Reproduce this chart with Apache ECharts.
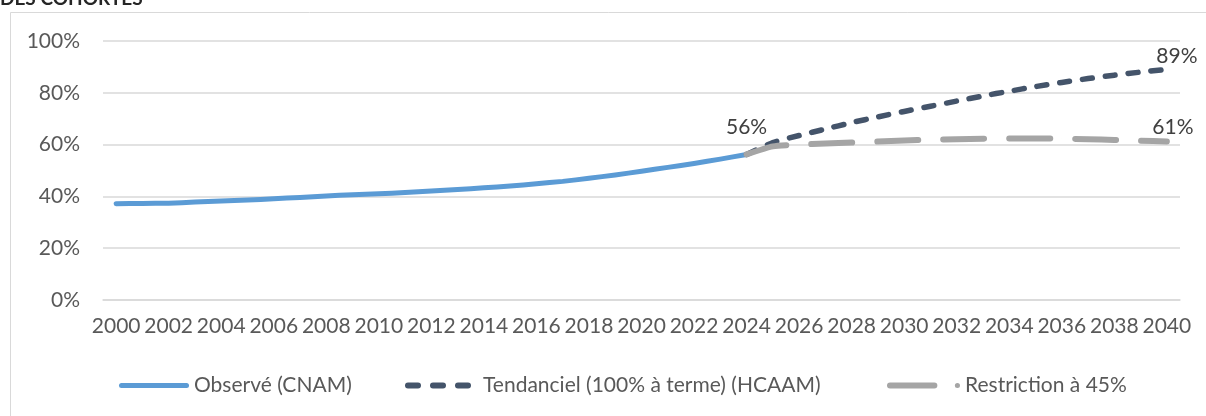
<!DOCTYPE html>
<html>
<head>
<meta charset="utf-8">
<script src="https://cdn.jsdelivr.net/npm/echarts@6/dist/echarts.min.js"></script>
<style>
html,body{margin:0;padding:0;background:#fff;}
#chart{width:1206px;height:416px;}
</style>
</head>
<body>
<div id="chart"></div>
<script>
// ---- Data ----
const years = [];
for (let y = 2000; y <= 2040; y++) years.push(String(y));

const observed = [37.2, 37.3, 37.4, 37.8, 38.2, 38.6, 39.1, 39.6, 40.2, 40.6,
  41.0, 41.5, 42.1, 42.7, 43.3, 44.0, 44.9, 45.8, 47.0, 48.3,
  49.7, 51.2, 52.7, 54.4, 56.2];
const trend = [56.2, 60.8, 63.5, 66.0, 68.5, 70.7, 72.8, 74.8, 76.8, 78.8,
  80.6, 82.4, 84.0, 85.5, 86.8, 88.0, 89.0];
const restriction = [56.2, 59.3, 60.0, 60.4, 60.8, 61.2, 61.6, 61.9, 62.1, 62.3,
  62.4, 62.4, 62.3, 62.1, 61.8, 61.5, 61.2];
const seriesNames = ['Observé (CNAM)', 'Tendanciel (100% à terme) (HCAAM)', 'Restriction à 45%'];
const labelTexts = ['56%', '89%', '61%'];
const yTicks = [0, 20, 40, 60, 80, 100];
const title = 'DES COHORTES';

// ---- Build series arrays aligned to the category axis ----
const startProj = 24; // index of 2024
function pad(arr, start) {
  const out = new Array(years.length).fill(null);
  arr.forEach((v, i) => { out[start + i] = v; });
  return out;
}
const obsData = pad(observed, 0);
const trendData = pad(trend, startProj);
const restData = pad(restriction, startProj);

const FONT = 'Lato';
const TXT = '#595959';
const FS = 21;
const BLUE = '#5B9BD5', DARK = '#44546A', GRAY = '#A5A5A5';

const labelStyle = { show: true, fontFamily: FONT, fontSize: FS, color: '#404040' };
obsData[observed.length - 1] = { value: observed[observed.length - 1],
  label: Object.assign({}, labelStyle, { position: 'top', offset: [0, -12], formatter: labelTexts[0] }) };
trendData[years.length - 1] = { value: trend[trend.length - 1],
  label: Object.assign({}, labelStyle, { position: 'top', offset: [10, 2], formatter: labelTexts[1] }) };
restData[years.length - 1] = { value: restriction[restriction.length - 1],
  label: Object.assign({}, labelStyle, { position: 'top', offset: [6, 1], formatter: labelTexts[2] }) };

function dash(x) { return 'M' + (x + 3) + ',0 H' + (x + 13) + ' A3,3 0 0 1 ' + (x + 13) + ',6 H' + (x + 3) + ' A3,3 0 0 1 ' + (x + 3) + ',0 Z'; }
const darkIcon = 'path://' + dash(0) + ' ' + dash(25) + ' ' + dash(50);
const grayIcon = 'path://M3,0 H46 A3,3 0 0 1 46,6 H3 A3,3 0 0 1 3,0 Z M66,3 A2.5,2.5 0 1 1 71,3 A2.5,2.5 0 1 1 66,3 Z';
const blueIcon = 'path://M2.5,0 H67.5 A2.5,2.5 0 0 1 67.5,5 H2.5 A2.5,2.5 0 0 1 2.5,0 Z';

function legendFor(name, left, icon, w, h, padLeft, color) {
  return {
    left: left, top: 370, orient: 'horizontal', selectedMode: false,
    data: [{ name: name, icon: icon, itemStyle: { color: color, opacity: 1 } }],
    itemWidth: w, itemHeight: h, symbolKeepAspect: false,
    textStyle: { fontFamily: FONT, fontSize: FS, color: TXT, padding: [0, 0, 0, padLeft] }
  };
}

function lineSeries(name, data, color, width, type, z) {
  return {
    name: name, type: 'line', data: data,
    symbol: 'circle', symbolSize: 0.1, showSymbol: true, showAllSymbol: true,
    itemStyle: { color: color },
    smooth: 0.2, connectNulls: false, z: z,
    lineStyle: { color: color, width: width, type: type, cap: 'round', join: 'round' },
    emphasis: { disabled: true }
  };
}

const chart = echarts.init(document.getElementById('chart'), null, { renderer: 'canvas' });
chart.setOption({
  animation: false,
  backgroundColor: '#ffffff',
  color: [BLUE, DARK, GRAY],
  graphic: [
    { type: 'rect', shape: { x: 10.5, y: 12.5, width: 1400, height: 600 },
      style: { fill: null, stroke: '#D9D9D9', lineWidth: 1 }, silent: true },
    { type: 'text', left: 0, top: -11,
      style: { text: title, fontFamily: FONT, fontWeight: 'bold', fontSize: 19, fill: '#262626' } }
  ],
  grid: { left: 103, right: 26, top: 41, bottom: 116, containLabel: false },
  xAxis: {
    type: 'category', data: years, boundaryGap: true,
    axisLine: { show: true, lineStyle: { color: '#D9D9D9', width: 1.5 } },
    axisTick: { show: false },
    axisLabel: { interval: 1, fontFamily: FONT, fontSize: FS, color: TXT, margin: 16 }
  },
  yAxis: {
    type: 'value', min: yTicks[0], max: yTicks[yTicks.length - 1], interval: 20,
    axisLine: { show: false }, axisTick: { show: false },
    splitLine: { lineStyle: { color: '#D9D9D9', width: 1.5 } },
    axisLabel: { fontFamily: FONT, fontSize: FS, color: TXT, margin: 23, formatter: '{value}%' }
  },
  legend: [
    legendFor(seriesNames[0], 114, blueIcon, 70, 5, 0, BLUE),
    legendFor(seriesNames[1], 400, darkIcon, 66, 6, 7, DARK),
    legendFor(seriesNames[2], 882, grayIcon, 73, 6, 0, GRAY)
  ],
  series: [
    lineSeries(seriesNames[0], obsData, BLUE, 5, 'solid', 3),
    lineSeries(seriesNames[1], trendData, DARK, 5.5, [10, 13], 4),
    lineSeries(seriesNames[2], restData, GRAY, 6, [41, 25], 5)
  ]
});
</script>
</body>
</html>
